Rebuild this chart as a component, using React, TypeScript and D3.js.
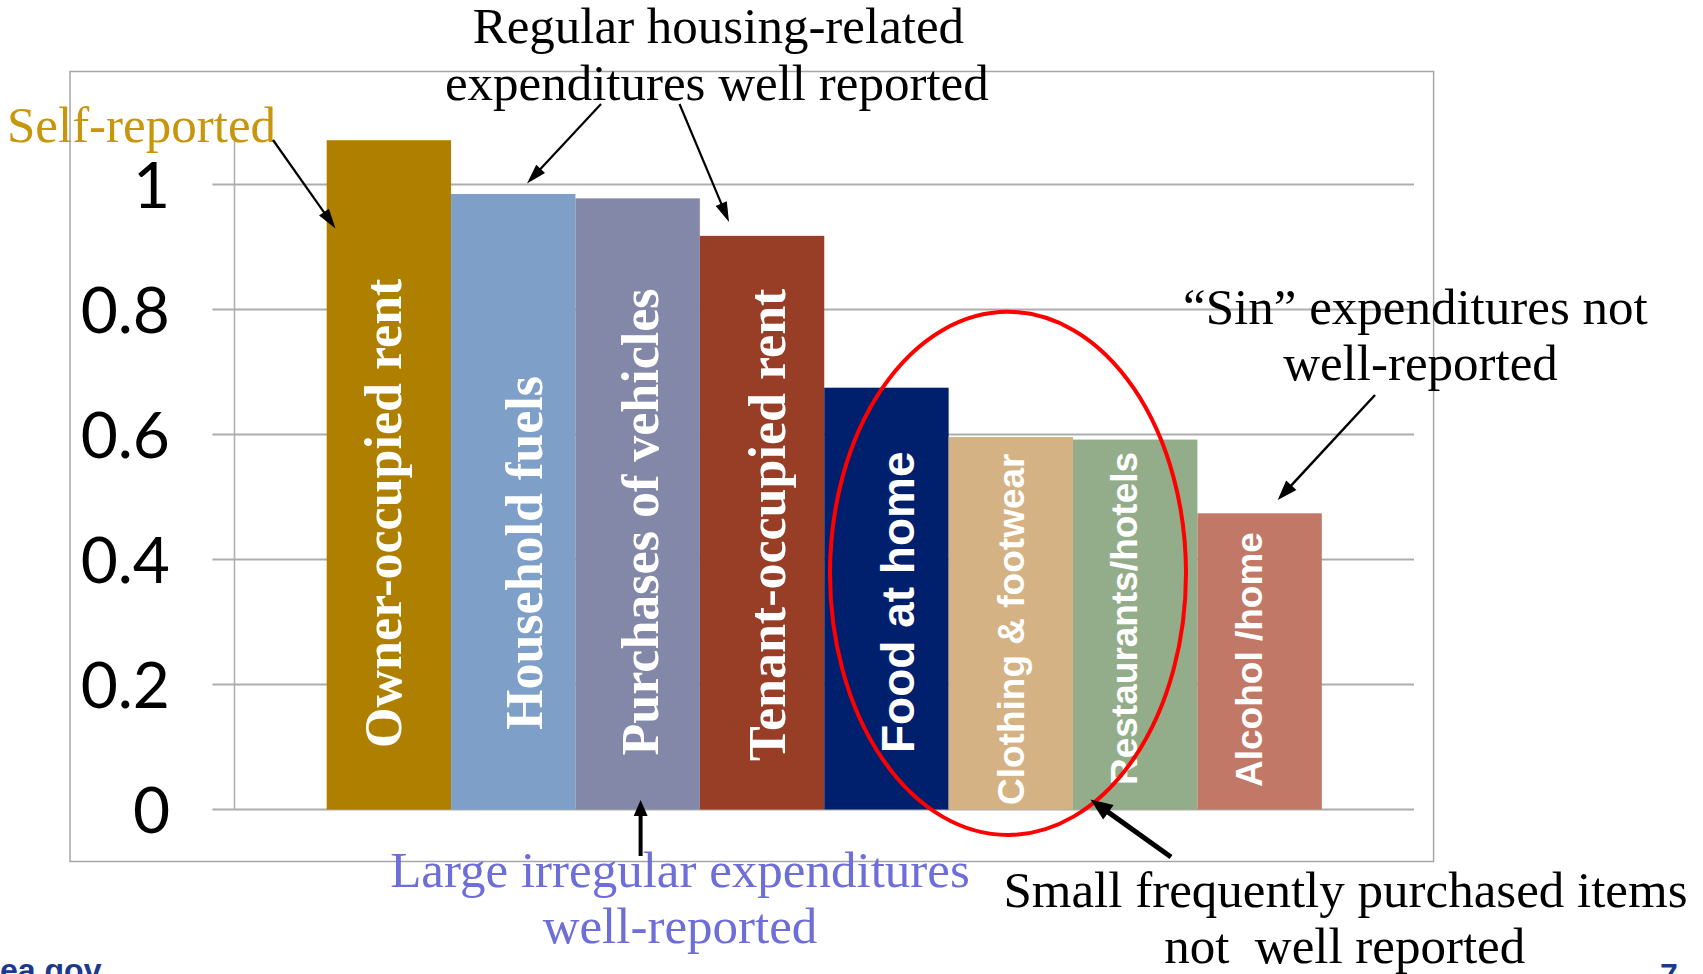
import React from 'react';
import * as d3 from 'd3';

// ---------- data ----------
const categories = [
  'Owner-occupied rent',
  'Household fuels',
  'Purchases of vehicles',
  'Tenant-occupied rent',
  'Food at home',
  'Clothing & footwear',
  'Restaurants/hotels',
  'Alcohol /home',
];
const values = [1.071, 0.985, 0.978, 0.918, 0.675, 0.596, 0.592, 0.474];
const barColors = ['#AF8000', '#7D9FC8', '#8387A8', '#983D26', '#00206E', '#D4B284', '#93AD8A', '#C27867'];
const yTicks = [0, 0.2, 0.4, 0.6, 0.8, 1];
const yTickLabels = ['0', '0.2', '0.4', '0.6', '0.8', '1'];

// ---------- label layout (style, not data) ----------
const SERIF = '"Liberation Serif", "Times New Roman", serif';
const SANS = '"Liberation Sans", Arial, sans-serif';
const labelFont = [SERIF, SERIF, SERIF, SERIF, SANS, SANS, SANS, SANS];
const labelSize = [52, 52, 52, 52, 46, 37, 37, 37];
const labelDx = [12.5, 29, 20, 23, 27.5, 13, 1.7, 2.7];
const labelGap = [61.5, 79.5, 54, 48.5, 56.5, 4.5, 24.5, 22.5];

const W = 1703;
const H = 974;

function Arrow({ x1, y1, x2, y2, w, hl, hw }: { x1: number; y1: number; x2: number; y2: number; w: number; hl: number; hw: number }) {
  const dx = x2 - x1;
  const dy = y2 - y1;
  const len = Math.sqrt(dx * dx + dy * dy);
  const ux = dx / len;
  const uy = dy / len;
  const bx = x2 - ux * hl;
  const by = y2 - uy * hl;
  const px = -uy;
  const py = ux;
  const pts = [
    [x2, y2],
    [bx + px * hw / 2, by + py * hw / 2],
    [bx - px * hw / 2, by - py * hw / 2],
  ]
    .map((p) => p.join(','))
    .join(' ');
  return (
    <g>
      <line x1={x1} y1={y1} x2={bx + ux * 2} y2={by + uy * 2} stroke="#000" strokeWidth={w} />
      <polygon points={pts} fill="#000" />
    </g>
  );
}

export default function App() {
  const x = d3
    .scaleBand<string>()
    .domain(categories)
    .range([234.5, 1414])
    .paddingInner(0)
    .paddingOuter(0.741);
  const y = d3.scaleLinear().domain([0, 1]).range([809.5, 184.6]);
  const yTop = y(1.07);

  return (
    <svg
      width={W}
      height={H}
      viewBox={`0 0 ${W} ${H}`}
      style={{ position: 'absolute', left: 0, top: 0, background: '#fff' }}
    >
      <rect x={0} y={0} width={W} height={H} fill="#fff" />
      {/* chart frame */}
      <rect x={70} y={71.5} width={1363.6} height={790} fill="none" stroke="#A6A6A6" strokeWidth={1.5} />

      {/* gridlines */}
      {yTicks.map((t) => (
        <line key={t} x1={212.4} x2={1414} y1={y(t)} y2={y(t)} stroke="#ADADAD" strokeWidth={2} />
      ))}
      {/* y axis line */}
      <line x1={234.5} x2={234.5} y1={y(0)} y2={yTop} stroke="#ADADAD" strokeWidth={1.5} />

      {/* tick labels */}
      {yTicks.map((t, i) => (
        <text
          key={'l' + t}
          x={170}
          y={y(t) + 23}
          textAnchor="end"
          fontFamily='Lato, "Open Sans", sans-serif'
          fontSize={64}
          fill="#000"
        >
          {yTickLabels[i]}
        </text>
      ))}

      {/* bars */}
      {categories.map((c, i) => (
        <rect
          key={c}
          x={x(c)}
          y={y(values[i])}
          width={x.bandwidth()}
          height={y(0) - y(values[i])}
          fill={barColors[i]}
        />
      ))}

      {/* bar labels */}
      {categories.map((c, i) => {
        const cx = (x(c) as number) + x.bandwidth() / 2 + labelDx[i];
        const cy = y(0) - labelGap[i];
        return (
          <text
            key={'t' + c}
            transform={`translate(${cx},${cy}) rotate(-90)`}
            textAnchor="start"
            fontFamily={labelFont[i]}
            fontWeight="bold"
            fontSize={labelSize[i]}
            fill="#fff"
          >
            {c}
          </text>
        );
      })}

      {/* red ellipse */}
      <ellipse cx={1008} cy={573.4} rx={178} ry={261.6} fill="none" stroke="#FF0000" strokeWidth={4} />

      {/* annotations */}
      <g fontFamily={SERIF} fontSize={51} fill="#000" textAnchor="middle">
        <text x={718.4} y={43.3}>Regular housing-related</text>
        <text x={716.8} y={100}>expenditures well reported</text>
        <text x={1415.4} y={324}>“Sin” expenditures not</text>
        <text x={1420.5} y={380}>well-reported</text>
        <text x={1345.5} y={906.7}>Small frequently purchased items</text>
        <text x={1344.7} y={963.3} style={{ whiteSpace: 'pre' }}>{'not  well reported'}</text>
      </g>
      <text x={141.5} y={141.7} textAnchor="middle" fontFamily={SERIF} fontSize={51} fill="#C8960C">
        Self-reported
      </text>
      <g fontFamily={SERIF} fontSize={51} fill="#6E6ED8" textAnchor="middle">
        <text x={680} y={886.7}>Large irregular expenditures</text>
        <text x={680} y={943.3}>well-reported</text>
      </g>

      {/* arrows */}
      <Arrow x1={273} y1={140} x2={335.5} y2={228.5} w={2.2} hl={20} hw={12} />
      <Arrow x1={601} y1={104} x2={527} y2={183.5} w={2.2} hl={20} hw={12} />
      <Arrow x1={679.5} y1={104} x2={729} y2={222} w={2.2} hl={20} hw={12} />
      <Arrow x1={640.6} y1={856} x2={640.6} y2={800} w={4} hl={16} hw={14} />
      <Arrow x1={1171} y1={857} x2={1090.5} y2={799.5} w={5} hl={22} hw={18} />
      <Arrow x1={1375} y1={395} x2={1277.7} y2={500} w={2.5} hl={20} hw={14} />

      {/* footer */}
      <text x={-19.5} y={981} fontFamily={SANS} fontWeight="bold" fontSize={32} fill="#1B3A8C">
        bea.gov
      </text>
      <text x={1660} y={986} fontFamily={SANS} fontWeight="bold" fontSize={32} fill="#1B3A8C">
        7
      </text>
    </svg>
  );
}
